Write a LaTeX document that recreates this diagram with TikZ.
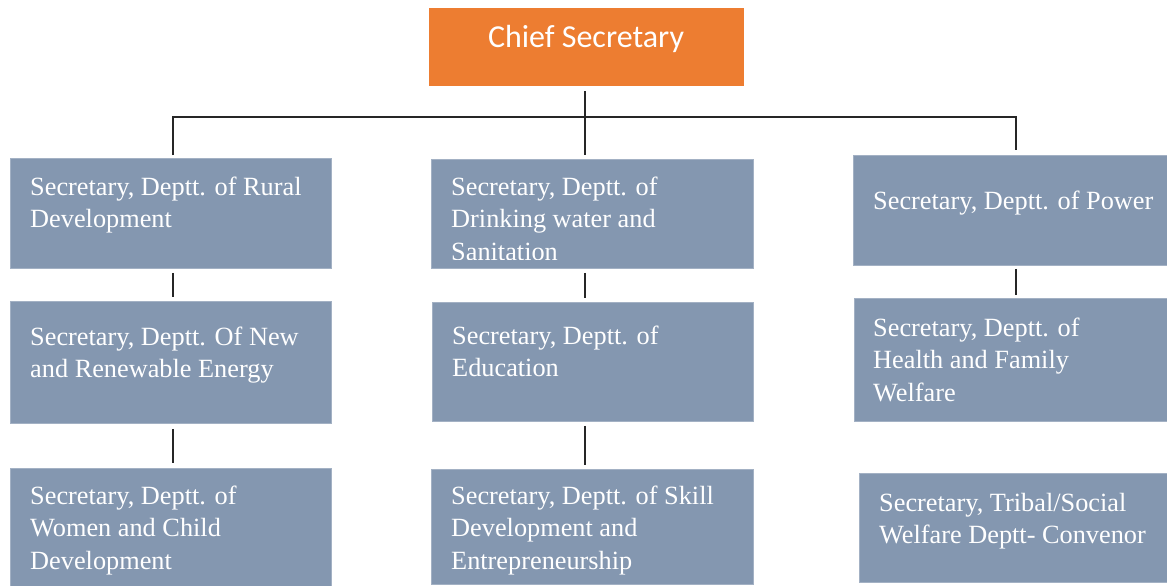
\documentclass[tikz,border=0pt]{standalone}
\usepackage{fontspec}
\setmainfont{Liberation Serif}
\newfontfamily\calfont{Carlito}
\usetikzlibrary{calc}
\definecolor{orng}{HTML}{ED7D31}
\definecolor{slate}{HTML}{8497B0}
\tikzset{
  sbox/.style={fill=slate, draw=slate!75!white, line width=0.8pt, inner sep=0pt, anchor=north west},
  stext/.style={anchor=north west, inner sep=0pt, align=left, text=white,
    font=\fontsize{26.3}{32.5}\selectfont},
  conn/.style={draw=black!85, line width=1.4pt},
}
\newcommand{\fl}{\rule{0pt}{20pt}}
\begin{document}
\begin{tikzpicture}[x=1pt,y=-1pt]
\fill[white] (0,0) rectangle (1167,586);
\useasboundingbox (0,0) rectangle (1167,586);

% chief
\node[fill=orng, inner sep=0pt, anchor=north west, minimum width=315pt, minimum height=78pt] (chief) at (429,8) {};
\node[text=white, inner sep=0pt, font=\calfont\fontsize{32}{38}\selectfont] (chieft) at (586,39) {Chief Secretary};

% boxes
\node[sbox, minimum width=321pt, minimum height=110pt] (a1) at (10,158) {};
\node[sbox, minimum width=322pt, minimum height=109pt] (b1) at (431,159) {};
\node[sbox, minimum width=320pt, minimum height=110pt] (c1) at (853,155) {};
\node[sbox, minimum width=321pt, minimum height=122pt] (a2) at (10,301) {};
\node[sbox, minimum width=321pt, minimum height=119pt] (b2) at (432,302) {};
\node[sbox, minimum width=320pt, minimum height=123pt] (c2) at (854,298) {};
\node[sbox, minimum width=321pt, minimum height=130pt] (a3) at (10,468) {};
\node[sbox, minimum width=322pt, minimum height=115pt] (b3) at (431,469) {};
\node[sbox, minimum width=320pt, minimum height=109pt] (c3) at (859,473) {};

% texts
\node[stext] (a1t) at (30,175) {\fl Secretary, Deptt. of Rural\\Development};
\begin{scope}
  \clip (b1.north west) rectangle ($(b1.south east)+(0,-9)$);
  \node[stext] (b1t) at (451,175) {\fl Secretary, Deptt. of\\Drinking water and\\Sanitation};
\end{scope}
\node[stext] (c1t) at (873,189) {\fl Secretary, Deptt. of Power};
\node[stext] (a2t) at (30,325) {\fl Secretary, Deptt. Of New\\and Renewable Energy};
\node[stext] (b2t) at (452,324) {\fl Secretary, Deptt. of\\Education};
\node[stext] (c2t) at (873,316) {\fl Secretary, Deptt. of\\Health and Family\\Welfare};
\node[stext] (a3t) at (30,484) {\fl Secretary, Deptt. of\\Women and Child\\Development};
\node[stext] (b3t) at (451,484) {\fl Secretary, Deptt. of Skill\\Development and\\Entrepreneurship};
\node[stext] (c3t) at (879,491) {\fl Secretary, Tribal/Social\\Welfare Deptt- Convenor};

% connectors
\coordinate (hub) at (585,117);
\coordinate (lx) at (173,117);
\coordinate (rx) at (1016,117);
\draw[conn] ($(chief.south -| hub)+(0,5)$) -- ($(b1.north -| hub)+(0,-4)$);
\draw[conn] ($(a1.north -| lx)+(0,-3)$) -- (lx) -- (rx) -- ($(c1.north -| rx)+(0,-5)$);
\draw[conn] ($(a1.south -| lx)+(0,4)$) -- ($(a2.north -| lx)+(0,-4)$);
\draw[conn] ($(b1.south -| hub)+(0,4)$) -- ($(b2.north -| hub)+(0,-4)$);
\draw[conn] ($(c1.south -| rx)+(0,3)$) -- ($(c2.north -| rx)+(0,-3)$);
\draw[conn] ($(a2.south -| lx)+(0,5)$) -- ($(a3.north -| lx)+(0,-5)$);
\draw[conn] ($(b2.south -| hub)+(0,4)$) -- ($(b3.north -| hub)+(0,-4)$);
\end{tikzpicture}
\end{document}
